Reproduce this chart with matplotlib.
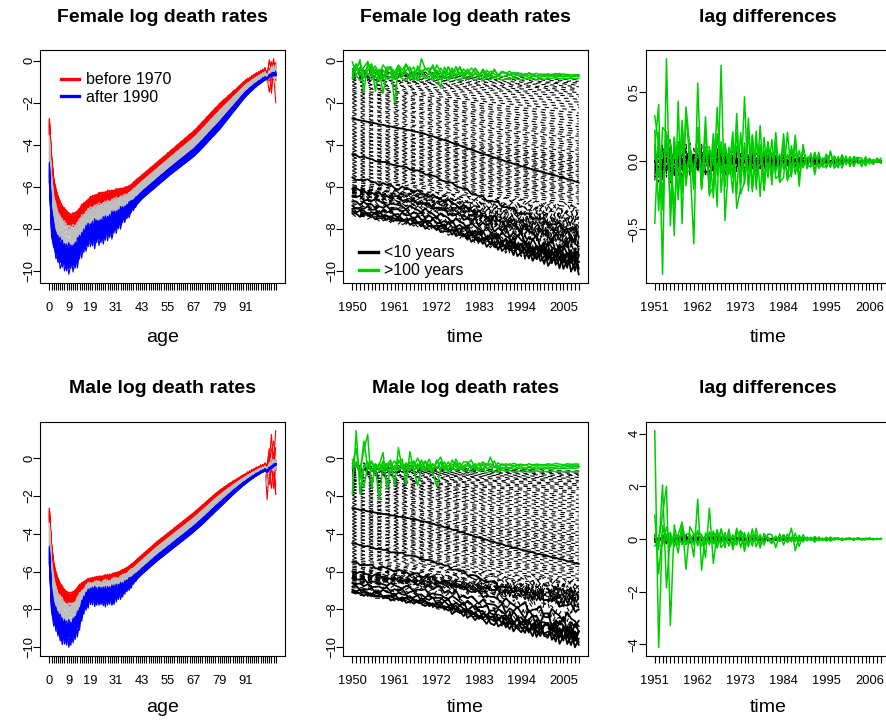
import numpy as np
import matplotlib
matplotlib.use("Agg")
import matplotlib.pyplot as plt
from matplotlib.ticker import MultipleLocator, FuncFormatter
from matplotlib.lines import Line2D

plt.rcParams['font.family'] = ['Liberation Sans', 'DejaVu Sans']

years = np.arange(1950, 2010)
ages = np.arange(0, 106)

age_tick_labels = [0, 9, 19, 31, 43, 55, 67, 79, 91]
year_tick_labels = [1950, 1961, 1972, 1983, 1994, 2005]
diff_tick_labels = [1951, 1962, 1973, 1984, 1995, 2006]

# ---- female log death rates, ages 0-100: first and last year profiles ----
fem_1950 = [
    -2.75, -4.45, -5.55, -6.10, -6.45, -6.70, -6.90, -7.05, -7.15, -7.25,
    -7.30, -7.30, -7.25, -7.15, -7.02, -6.90, -6.80, -6.70, -6.60, -6.52,
    -6.46, -6.41, -6.37, -6.33, -6.30, -6.27, -6.25, -6.23, -6.21, -6.19,
    -6.17, -6.15, -6.12, -6.09, -6.07, -6.05, -6.01, -5.96, -5.89, -5.80,
    -5.70, -5.62, -5.53, -5.45, -5.36, -5.27, -5.19, -5.10, -5.01, -4.93,
    -4.84, -4.75, -4.66, -4.58, -4.49, -4.40, -4.31, -4.23, -4.14, -4.05,
    -3.96, -3.87, -3.79, -3.70, -3.61, -3.52, -3.44, -3.35, -3.25, -3.14,
    -3.03, -2.92, -2.81, -2.70, -2.59, -2.48, -2.37, -2.26, -2.16, -2.05,
    -1.95, -1.86, -1.77, -1.68, -1.59, -1.50, -1.41, -1.32, -1.22, -1.13,
    -1.04, -0.95, -0.89, -0.83, -0.77, -0.71, -0.66, -0.61, -0.56, -0.51,
    -0.46]
fem_2009 = [
    -5.80, -8.20, -8.80, -9.15, -9.35, -9.50, -9.60, -9.65, -9.70, -9.70,
    -9.70, -9.65, -9.55, -9.40, -9.20, -9.00, -8.82, -8.68, -8.58, -8.52,
    -8.48, -8.46, -8.43, -8.40, -8.36, -8.31, -8.25, -8.18, -8.10, -8.02,
    -7.93, -7.84, -7.75, -7.65, -7.55, -7.45, -7.35, -7.24, -7.13, -7.02,
    -6.91, -6.80, -6.69, -6.58, -6.49, -6.40, -6.31, -6.22, -6.14, -6.05,
    -5.96, -5.87, -5.78, -5.70, -5.61, -5.52, -5.44, -5.36, -5.28, -5.20,
    -5.12, -5.04, -4.96, -4.88, -4.80, -4.72, -4.64, -4.56, -4.46, -4.36,
    -4.26, -4.15, -4.04, -3.93, -3.82, -3.71, -3.60, -3.49, -3.38, -3.27,
    -3.14, -3.01, -2.88, -2.75, -2.62, -2.49, -2.36, -2.23, -2.10, -1.97,
    -1.84, -1.72, -1.61, -1.51, -1.41, -1.32, -1.23, -1.15, -1.07, -0.99,
    -0.92]

# ---- male log death rates, ages 0-100: first and last year profiles ----
male_1950 = [
    -2.65, -4.50, -5.50, -6.00, -6.35, -6.60, -6.80, -6.95, -7.05, -7.10,
    -7.12, -7.08, -6.98, -6.85, -6.72, -6.62, -6.54, -6.47, -6.42, -6.38,
    -6.35, -6.33, -6.31, -6.29, -6.27, -6.25, -6.23, -6.21, -6.18, -6.15,
    -6.12, -6.08, -6.03, -5.98, -5.92, -5.86, -5.79, -5.71, -5.62, -5.53,
    -5.43, -5.33, -5.23, -5.13, -5.03, -4.93, -4.83, -4.73, -4.63, -4.53,
    -4.43, -4.34, -4.25, -4.16, -4.07, -3.98, -3.89, -3.80, -3.71, -3.62,
    -3.53, -3.44, -3.35, -3.26, -3.17, -3.08, -2.99, -2.90, -2.80, -2.70,
    -2.60, -2.50, -2.40, -2.30, -2.20, -2.10, -2.00, -1.90, -1.81, -1.72,
    -1.64, -1.56, -1.48, -1.40, -1.33, -1.26, -1.19, -1.12, -1.05, -0.98,
    -0.92, -0.86, -0.80, -0.74, -0.69, -0.64, -0.59, -0.54, -0.50, -0.46,
    -0.42]
male_2009 = [
    -5.60, -8.00, -8.60, -8.95, -9.20, -9.35, -9.45, -9.55, -9.60, -9.60,
    -9.55, -9.45, -9.30, -9.05, -8.70, -8.30, -7.95, -7.70, -7.52, -7.43,
    -7.40, -7.40, -7.41, -7.42, -7.43, -7.43, -7.43, -7.42, -7.40, -7.37,
    -7.33, -7.28, -7.22, -7.15, -7.07, -6.98, -6.89, -6.79, -6.69, -6.58,
    -6.47, -6.36, -6.25, -6.14, -6.04, -5.94, -5.84, -5.74, -5.64, -5.54,
    -5.44, -5.35, -5.26, -5.17, -5.08, -4.99, -4.90, -4.81, -4.72, -4.63,
    -4.54, -4.45, -4.36, -4.27, -4.18, -4.09, -4.00, -3.90, -3.80, -3.70,
    -3.60, -3.50, -3.39, -3.28, -3.17, -3.06, -2.95, -2.84, -2.73, -2.62,
    -2.51, -2.40, -2.29, -2.18, -2.07, -1.96, -1.85, -1.75, -1.65, -1.55,
    -1.45, -1.36, -1.27, -1.18, -1.10, -1.02, -0.94, -0.87, -0.80, -0.74,
    -0.68]

# ---- share of the 1950-2009 change reached in each year ----
fem_trend = [
    0.000, 0.015, 0.028, 0.040, 0.052, 0.066, 0.075, 0.092, 0.100, 0.116,
    0.124, 0.138, 0.150, 0.158, 0.175, 0.184, 0.201, 0.210, 0.232, 0.243,
    0.263, 0.277, 0.302, 0.316, 0.338, 0.354, 0.380, 0.396, 0.422, 0.440,
    0.467, 0.483, 0.510, 0.528, 0.550, 0.568, 0.592, 0.607, 0.632, 0.646,
    0.670, 0.686, 0.707, 0.720, 0.744, 0.758, 0.780, 0.793, 0.814, 0.826,
    0.847, 0.860, 0.877, 0.888, 0.912, 0.923, 0.947, 0.958, 0.980, 1.000]
male_trend = [
    0.000, 0.012, 0.030, 0.036, 0.056, 0.062, 0.080, 0.088, 0.103, 0.112,
    0.126, 0.135, 0.152, 0.156, 0.174, 0.182, 0.203, 0.208, 0.234, 0.240,
    0.266, 0.274, 0.305, 0.312, 0.342, 0.350, 0.384, 0.392, 0.426, 0.436,
    0.470, 0.480, 0.514, 0.524, 0.554, 0.565, 0.595, 0.604, 0.635, 0.643,
    0.673, 0.683, 0.710, 0.717, 0.747, 0.755, 0.783, 0.790, 0.817, 0.823,
    0.850, 0.857, 0.880, 0.886, 0.914, 0.921, 0.949, 0.956, 0.982, 1.000]

# ---- year-to-year fluctuations: age loadings (ages 1-40 and 41-100) ----
young_load_a = [
    0.3, -0.5, 0.8, -0.6, 1.0, -0.9, 0.7, -1.0, 0.9, -0.7,
    1.0, -0.8, 0.8, -0.9, 0.9, -0.7, 0.8, -0.9, 0.8, -0.9,
    1.0, -0.8, 0.9, -0.7, 0.9, -1.0, 0.8, -0.9, 1.0, -0.8,
    0.9, -0.7, 0.8, -0.6, 0.6, -0.5, 0.5, -0.4, 0.3, -0.25]
young_load_b = [
    0.4, 0.7, -0.6, -0.9, 0.5, 0.8, -1.0, -0.6, 0.9, 0.7,
    -0.8, -0.9, 1.0, 0.7, -0.8, -0.9, 0.7, 0.8, -0.7, -0.8,
    0.9, 0.7, -0.8, -0.9, 0.7, 0.8, -0.9, -0.7, 0.8, 0.9,
    -0.7, -0.6, 0.6, 0.5, -0.5, -0.4, 0.4, 0.35, -0.3, -0.2]
adult_load = [
    0.30, -0.25, 0.30, -0.30, 0.25, -0.30, 0.30, -0.25, 0.30, -0.30,
    0.25, -0.30, 0.30, -0.25, 0.30, -0.30, 0.25, -0.30, 0.30, -0.25,
    0.30, -0.30, 0.25, -0.30, 0.30, -0.25, 0.30, -0.30, 0.25, -0.30,
    0.30, -0.25, 0.30, -0.30, 0.25, -0.30, 0.30, -0.25, 0.30, -0.30,
    0.30, -0.25, 0.30, -0.30, 0.30, 0.20, -0.25, 0.30, -0.35, 0.40,
    -0.45, 0.50, -0.55, 0.60, -0.70, 0.75, -0.80, 0.90, -0.95, 1.00]

# ---- year-to-year fluctuations: year scores ----
fem_young_a = [
    0.00, 0.07, -0.05, 0.08, -0.06, 0.04, -0.08, 0.07, -0.04, 0.08,
    -0.08, 0.05, 0.09, -0.07, 0.06, -0.09, 0.07, -0.05, 0.09, -0.08,
    0.09, -0.06, 0.10, -0.09, 0.07, -0.11, 0.09, -0.07, 0.12, -0.10,
    0.11, -0.13, 0.10, -0.15, 0.13, -0.11, 0.16, -0.14, 0.17, -0.13,
    0.19, -0.16, 0.21, -0.18, 0.15, -0.23, 0.20, -0.17, 0.25, -0.21,
    0.23, -0.27, 0.19, -0.25, 0.28, -0.21, 0.26, -0.30, 0.23, -0.27]
fem_young_b = [
    0.00, -0.05, -0.08, 0.04, 0.07, 0.02, -0.05, -0.09, 0.05, 0.08,
    0.03, -0.06, -0.08, 0.07, 0.09, -0.03, -0.07, 0.08, 0.05, -0.09,
    -0.05, 0.09, 0.07, -0.06, -0.10, 0.08, 0.11, -0.07, -0.09, 0.10,
    0.12, -0.08, -0.11, 0.10, 0.06, -0.13, -0.10, 0.14, 0.11, -0.12,
    -0.16, 0.10, 0.15, -0.14, -0.18, 0.17, 0.12, -0.20, -0.15, 0.19,
    0.22, -0.18, -0.24, 0.16, 0.21, -0.23, -0.17, 0.26, 0.20, -0.25]
fem_old = [
    0.10, -0.12, 0.15, -0.08, 0.13, -0.15, 0.06, -0.12, 0.14, -0.10,
    0.12, -0.06, 0.10, -0.13, 0.08, -0.09, 0.11, -0.07, 0.09, -0.10,
    0.07, -0.08, 0.06, -0.09, 0.08, -0.05, 0.07, -0.06, 0.05, -0.07,
    0.06, -0.04, 0.05, -0.06, 0.04, -0.05, 0.03, -0.05, 0.04, -0.03,
    0.04, -0.03, 0.03, -0.04, 0.02, -0.03, 0.03, -0.02, 0.03, -0.02,
    0.02, -0.03, 0.02, -0.02, 0.01, -0.02, 0.02, -0.01, 0.02, -0.02]
male_young_a = [
    0.00, -0.05, 0.07, -0.04, 0.06, -0.07, 0.05, 0.08, -0.06, 0.04,
    -0.07, 0.08, -0.05, 0.07, -0.08, 0.06, 0.09, -0.07, 0.08, -0.08,
    0.06, -0.10, 0.08, 0.11, -0.07, 0.09, -0.12, 0.10, -0.08, 0.12,
    -0.10, 0.08, 0.13, -0.12, 0.10, -0.14, 0.11, 0.15, -0.13, 0.12,
    -0.16, 0.18, -0.14, 0.20, 0.15, -0.19, 0.22, -0.17, 0.21, -0.24,
    0.19, 0.26, -0.21, 0.24, -0.28, 0.22, -0.25, 0.29, -0.23, 0.27]
male_young_b = [
    0.00, 0.05, -0.04, -0.07, 0.06, 0.05, -0.08, -0.04, 0.07, 0.06,
    -0.06, -0.07, 0.06, 0.08, -0.05, -0.08, 0.07, 0.05, -0.09, -0.06,
    0.07, 0.09, -0.06, -0.08, 0.10, 0.05, -0.09, -0.11, 0.08, 0.12,
    -0.10, -0.07, 0.13, 0.11, -0.12, -0.14, 0.10, 0.15, -0.11, -0.16,
    0.14, 0.12, -0.18, -0.15, 0.17, 0.20, -0.16, -0.21, 0.19, 0.15,
    -0.23, -0.19, 0.22, 0.25, -0.20, -0.26, 0.24, 0.18, -0.27, -0.22]
male_old = [
    -0.12, 0.15, -0.10, 0.18, -0.14, 0.09, -0.16, 0.13, -0.11, 0.15,
    -0.09, 0.12, -0.13, 0.08, -0.11, 0.10, -0.07, 0.11, -0.09, 0.08,
    -0.07, 0.09, -0.06, 0.07, -0.08, 0.05, -0.07, 0.06, -0.05, 0.07,
    -0.05, 0.06, -0.04, 0.05, -0.05, 0.04, -0.04, 0.05, -0.03, 0.04,
    -0.03, 0.04, -0.03, 0.03, -0.02, 0.03, -0.03, 0.02, -0.02, 0.03,
    -0.02, 0.02, -0.02, 0.01, -0.02, 0.02, -0.01, 0.02, -0.01, 0.01]

# ---- ages 101-105, log death rates 1950-2009 ----
fem_101 = [
    -0.85, -0.70, -0.95, -0.80, -0.60, -0.90, -0.75, -0.95, -0.70, -0.85,
    -0.75, -0.90, -0.70, -0.85, -0.95, -0.75, -0.80, -0.95, -0.70, -0.85,
    -0.80, -0.95, -0.70, -0.88, -0.78, -0.95, -0.74, -0.88, -0.95, -0.78,
    -0.88, -0.74, -0.92, -0.80, -0.94, -0.82, -0.90, -0.78, -0.86, -0.92,
    -0.85, -0.90, -0.80, -0.88, -0.92, -0.83, -0.88, -0.84, -0.90, -0.85,
    -0.88, -0.85, -0.84, -0.80, -0.87, -0.85, -0.86, -0.84, -0.86, -0.85]
fem_102 = [
    -0.60, -0.45, 0.05, -1.50, -0.03, -0.70, -0.40, -0.95, -0.45, -0.70,
    -0.55, -0.85, -0.40, -0.75, -0.55, -0.90, -0.50, -0.70, -0.45, -0.80,
    -0.60, -0.85, -0.45, -0.75, -0.50, -0.85, -0.48, -0.78, -0.55, -0.82,
    -0.55, -0.80, -0.60, -0.76, -0.52, -0.80, -0.62, -0.82, -0.66, -0.76,
    -0.72, -0.64, -0.78, -0.68, -0.76, -0.70, -0.80, -0.72, -0.76, -0.78,
    -0.74, -0.78, -0.72, -0.76, -0.74, -0.77, -0.75, -0.78, -0.74, -0.76]
fem_103 = [
    -0.05, -0.70, -0.35, -0.80, -0.45, -0.25, -1.45, -0.40, -1.55, -0.50,
    -0.35, -0.70, -0.30, -0.60, -0.45, -0.30, -0.75, -0.40, -0.55, -0.35,
    -0.50, -0.30, -0.70, -0.35, -0.62, -0.30, -0.66, -0.45, -0.35, -0.70,
    -0.45, -0.62, -0.40, -0.66, -0.48, -0.70, -0.50, -0.64, -0.74, -0.56,
    -0.62, -0.70, -0.58, -0.68, -0.72, -0.62, -0.70, -0.64, -0.74, -0.67,
    -0.70, -0.66, -0.72, -0.68, -0.70, -0.74, -0.70, -0.72, -0.70, -0.73]
fem_104 = [
    -0.45, -0.15, -0.70, -0.30, -0.05, -0.50, -0.25, -0.65, -0.20, -0.45,
    -0.30, -0.55, -0.20, -0.45, -0.15, -0.50, -0.30, -0.90, 0.10, -0.40,
    -0.35, -0.75, -0.20, -0.55, -0.85, -0.30, -0.62, -0.28, -0.70, -0.40,
    -0.60, -0.35, -0.55, -0.75, -0.40, -0.62, -0.80, -0.45, -0.68, -0.52,
    -0.58, -0.66, -0.55, -0.64, -0.60, -0.70, -0.58, -0.68, -0.72, -0.63,
    -0.68, -0.62, -0.70, -0.65, -0.61, -0.68, -0.65, -0.70, -0.66, -0.69]
fem_105 = [
    -0.80, -0.25, -0.10, -0.60, -0.30, -0.15, -0.70, -0.45, -0.90, -0.30,
    -0.30, -2.00, -0.35, -0.70, -0.20, -0.55, -0.95, -0.25, -0.60, -0.40,
    -0.50, -0.20, -0.75, -1.30, -0.30, -0.65, -0.35, -0.70, -0.28, -0.62,
    -0.40, -0.70, -0.35, -0.60, -0.85, -0.45, -0.65, -0.40, -0.72, -0.50,
    -0.60, -0.50, -0.68, -0.56, -0.64, -0.72, -0.58, -0.66, -0.60, -0.70,
    -0.63, -0.71, -0.65, -0.61, -0.69, -0.63, -0.67, -0.68, -0.70, -0.66]
male_101 = [
    -0.55, -0.35, -0.80, -1.55, -0.40, -0.70, -0.45, -2.20, -0.35, -0.60,
    -0.75, -0.40, -0.65, -0.50, -0.85, -0.45, -0.60, -1.45, -0.50, -0.70,
    -0.55, -0.80, -1.50, -0.60, -0.45, -0.75, -0.55, -0.65, -0.50, -0.70,
    -0.60, -0.75, -0.55, -0.70, -0.60, -0.80, -0.65, -0.70, -0.75, -0.62,
    -0.70, -0.65, -0.75, -0.68, -0.72, -0.66, -0.74, -0.70, -0.68, -0.72,
    -0.70, -0.74, -0.68, -0.72, -0.70, -0.73, -0.69, -0.72, -0.70, -0.71]
male_102 = [
    -0.30, 0.50, -1.10, -0.45, -0.20, -0.65, -0.30, -0.55, -0.20, -0.50,
    -0.35, -0.60, -0.25, -0.05, -1.40, 0.35, -0.70, -0.30, -0.55, -0.20,
    -0.60, -0.35, -0.50, -0.25, -0.65, -0.40, -0.55, -0.30, -0.60, -0.45,
    -0.40, -0.55, -0.45, -0.60, -0.35, -0.55, -0.50, -0.45, -0.60, -0.50,
    -0.55, -0.48, -0.60, -0.52, -0.58, -0.50, -0.62, -0.55, -0.58, -0.54,
    -0.58, -0.55, -0.60, -0.54, -0.57, -0.53, -0.56, -0.52, -0.55, -0.50]
male_103 = [
    -0.10, -0.45, -0.60, 0.40, 1.25, -1.60, -0.30, -0.70, -0.15, -0.45,
    -0.25, -0.55, -0.10, -0.45, -0.30, -0.65, -0.20, -0.50, -0.35, -0.15,
    -0.45, -0.30, -0.55, -0.20, -0.40, -0.60, -0.35, -0.25, -0.55, -0.40,
    -0.30, -0.50, -0.40, -0.55, -0.30, -0.45, 0.05, -0.50, -0.40, -0.55,
    -0.45, -0.55, -0.40, -0.50, -0.45, -0.58, -0.48, -0.52, -0.45, -0.55,
    -0.50, -0.46, -0.52, -0.48, -0.45, -0.50, -0.44, -0.48, -0.46, -0.45]
male_104 = [
    -0.45, -0.20, -0.90, 0.90, -0.50, -0.25, -0.60, -0.35, 0.30, -1.60,
    -0.40, -0.15, -0.50, -0.30, -0.60, -0.20, -0.45, 0.00, -0.40, -0.60,
    -0.30, -0.70, -0.10, -0.55, -0.20, -0.65, -0.10, -0.50, -0.25, -0.60,
    -0.30, -0.10, -0.55, -0.25, -0.60, -0.30, -0.45, -0.15, -0.55, -0.30,
    -0.40, -0.30, -0.48, -0.36, -0.44, -0.34, -0.46, -0.40, -0.36, -0.42,
    -0.40, -0.36, -0.42, -0.38, -0.44, -0.40, -0.38, -0.42, -0.39, -0.41]
male_105 = [
    -1.90, 1.45, -1.90, -0.40, -0.50, -0.15, -0.55, -0.30, -0.65, -0.35,
    -0.10, -1.50, 0.55, -0.60, -0.25, -0.50, -0.15, -0.65, -0.10, -0.55,
    -0.05, -0.60, -0.25, 0.05, -0.55, -0.20, -0.60, -0.05, -0.50, -0.20,
    -0.20, -0.45, -0.30, -0.40, -0.20, -0.35, -0.30, -0.45, -0.25, -0.40,
    -0.30, -0.38, -0.28, -0.35, -0.32, -0.40, -0.30, -0.36, -0.32, -0.34,
    -0.36, -0.30, -0.34, -0.28, -0.32, -0.35, -0.30, -0.33, -0.31, -0.32]


def rate_matrix(p_first, p_last, trend, ya, yb, yo, top_ages):
    """Age x year matrix of log death rates."""
    p_first = np.asarray(p_first)
    p_last = np.asarray(p_last)
    m = p_first[:, None] + np.asarray(trend)[None, :] * (p_last - p_first)[:, None]
    m[1:41] += np.outer(young_load_a, ya) + np.outer(young_load_b, yb)
    m[41:101] += np.outer(adult_load, yo)
    return np.vstack([m, np.asarray(top_ages)])


female = rate_matrix(fem_1950, fem_2009, fem_trend, fem_young_a, fem_young_b,
                     fem_old, [fem_101, fem_102, fem_103, fem_104, fem_105])
male = rate_matrix(male_1950, male_2009, male_trend, male_young_a, male_young_b,
                   male_old, [male_101, male_102, male_103, male_104, male_105])

RED, BLUE, GREY, GREEN = '#FF0000', '#0000FF', '#BEBEBE', '#00CD00'
DASH = (0, (4, 4))

W, H = 887, 722
fig = plt.figure(figsize=(W / 100, H / 100), dpi=100)

col_left = [40.3, 343.3, 645.7]
ax_w = 244.5
rows = [(50, 283), (422, 656)]


def make_axes(c, r):
    x0 = col_left[c]
    y0, y1 = rows[r]
    return fig.add_axes([x0 / W, 1 - y1 / H, ax_w / W, (y1 - y0) / H])


def r_limits(vals):
    lo, hi = np.nanmin(vals), np.nanmax(vals)
    pad = 0.04 * (hi - lo)
    return lo - pad, hi + pad


def style_axes(ax, xvals, labelled, ystep, yfmt=None):
    ax.set_xlim(*r_limits(xvals))
    ax.set_xticks(xvals)
    ax.set_xticklabels([str(v) if v in labelled else '' for v in xvals])
    ax.yaxis.set_major_locator(MultipleLocator(ystep))
    if yfmt is not None:
        ax.yaxis.set_major_formatter(yfmt)
    ax.tick_params(axis='both', direction='out', length=5, width=0.8,
                   labelsize=9.3, colors='black')
    ax.tick_params(axis='x', pad=8.5)
    ax.tick_params(axis='y', pad=-1.5, labelrotation=90)
    for lab in ax.get_yticklabels():
        lab.set_va('center')
    for sp in ax.spines.values():
        sp.set_linewidth(0.8)
        sp.set_color('black')


def title_and_xlabel(ax, r, title, xlabel):
    c = ax.get_position()
    xc = c.x0 + c.width / 2
    ty = [17.0, 388.5][r]
    ly = [337.0, 708.0][r]
    fig.text(xc, 1 - ty / H, title, ha='center', va='center',
             fontsize=14, fontweight='bold')
    fig.text(xc, 1 - ly / H, xlabel, ha='center', va='center', fontsize=14)


def age_panel(ax, m):
    for j, yr in enumerate(years):
        col = RED if yr < 1970 else (BLUE if yr > 1990 else GREY)
        ax.plot(ages, m[:, j], color=col, lw=0.8)
    ax.set_ylim(*r_limits(m))


def time_panel(ax, xs, m, black_lw=1.3):
    for i, a in enumerate(ages):
        if a < 10:
            ax.plot(xs, m[i], color='black', lw=black_lw)
        elif a > 100:
            ax.plot(xs, m[i], color=GREEN, lw=1.1)
        else:
            ax.plot(xs, m[i], color='black', lw=0.8, linestyle=DASH)
    ax.set_ylim(*r_limits(m))


minus = lambda s: s.replace('-', '\u2212')
diff_fmt = FuncFormatter(lambda v, p: minus(f'{v:.1f}'))

for r, (m, sex) in enumerate([(female, 'Female'), (male, 'Male')]):
    lag = np.diff(np.exp(m), axis=1)

    ax1 = make_axes(0, r)
    age_panel(ax1, m)
    style_axes(ax1, ages, age_tick_labels, 2)
    title_and_xlabel(ax1, r, f'{sex} log death rates', 'age')

    ax2 = make_axes(1, r)
    time_panel(ax2, years, m)
    style_axes(ax2, years, year_tick_labels, 2)
    title_and_xlabel(ax2, r, f'{sex} log death rates', 'time')

    ax3 = make_axes(2, r)
    time_panel(ax3, years[1:], lag, black_lw=1.0)
    if r == 0:
        style_axes(ax3, years[1:], diff_tick_labels, 0.5, diff_fmt)
    else:
        style_axes(ax3, years[1:], diff_tick_labels, 2)
    title_and_xlabel(ax3, r, 'lag differences', 'time')

    if r == 0:
        ax1.legend([Line2D([], [], color=RED, lw=2.4),
                    Line2D([], [], color=BLUE, lw=2.4)],
                   ['before 1970', 'after 1990'], loc='upper left',
                   bbox_to_anchor=(0.085, 0.905), frameon=False, fontsize=11.5,
                   handlelength=1.15, handletextpad=0.4, labelspacing=0.15,
                   borderpad=0, borderaxespad=0)
        ax2.legend([Line2D([], [], color='black', lw=2.4),
                    Line2D([], [], color=GREEN, lw=2.4)],
                   ['<10 years', '>100 years'], loc='lower left',
                   bbox_to_anchor=(0.065, 0.02), frameon=False, fontsize=11.5,
                   handlelength=1.15, handletextpad=0.4, labelspacing=0.2,
                   borderpad=0, borderaxespad=0)

fig.savefig('out.png', dpi=100)
